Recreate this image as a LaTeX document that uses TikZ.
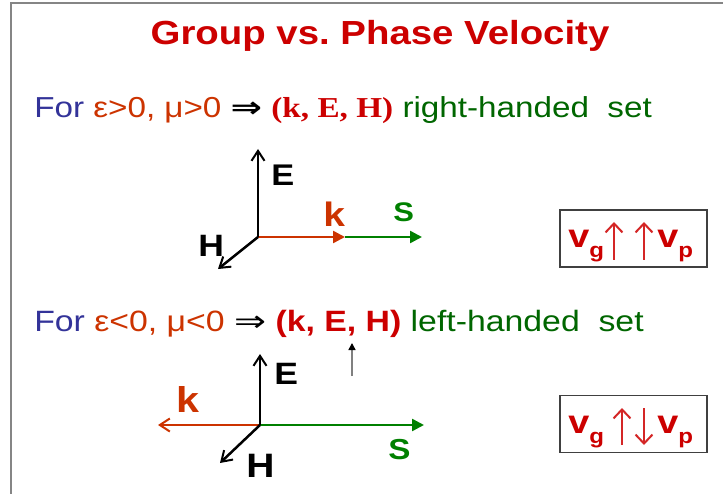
\documentclass[tikz,border=0pt]{standalone}
\usepackage{fontspec}
\setmainfont{Liberation Sans}[FakeStretch=1.15]
\newfontfamily\serifbf{Liberation Serif}[FakeStretch=1.15]
\newfontfamily\symfont{DejaVu Sans}[FakeStretch=1.3]
\usetikzlibrary{arrows.meta}
\definecolor{ttlred}{HTML}{CC0000}
\definecolor{forblue}{HTML}{333399}
\definecolor{condred}{HTML}{CC3300}
\definecolor{setgreen}{HTML}{006600}
\definecolor{sgreen}{HTML}{008000}
\definecolor{framegray}{HTML}{858585}
\newcommand{\fsz}[1]{\fontsize{#1}{#1}\selectfont}

\begin{document}
\begin{tikzpicture}[x=1bp, y=-1bp, line width=2.5bp,
    lbl/.style={inner sep=0pt, anchor=base west, font=\bfseries},
    barb/.style={-{Straight Barb[length=10bp, width=13bp, line width=2bp]}},
    tri/.style={-{Triangle[length=12bp, width=12bp]}},
    vbox/.style={draw=black!75, line width=1.5bp, minimum width=147bp,
      minimum height=57bp, inner sep=0pt},
    vel/.style={inner sep=0pt, anchor=base west, text=ttlred,
      font=\fsz{33}\bfseries},
    vdir/.style={draw=ttlred!85, line width=2bp,
      -{Straight Barb[length=9bp, width=17bp, line width=2bp]}}]
  \useasboundingbox (0,0) rectangle (723,494);
  % slide frame
  \draw[framegray, line width=2bp] (10.5,494) -- (10.5,3) -- (723,3);

  % title and the two statements
  \node[inner sep=0pt, anchor=base, text=ttlred, font=\fsz{33.5}\bfseries]
    (title) at (380,45) {Group vs.\ Phase Velocity};
  \node[inner sep=0pt, anchor=base west, font=\fsz{29}] (cond1) at (33,118)
    {\color{forblue}For \color{condred}ε>0, μ>0 {\color{black}\symfont\bfseries ⇒}
     {\color{ttlred}\serifbf\bfseries (k, E, H)} \color{setgreen}right-handed\ \ set};
  \node[inner sep=0pt, anchor=base west, font=\fsz{29.5}] (cond2) at (33,331)
    {\color{forblue}For \color{condred}ε<0, μ<0 {\color{black}\symfont ⇒}
     {\color{ttlred}\bfseries (k, E, H)} \color{setgreen}left-handed\ \ set};

  % right-handed triad
  \coordinate (o1) at (258,237);
  \coordinate (e1) at (258,149);
  \coordinate (h1) at (218,269);
  \coordinate (k1) at (345,237);
  \coordinate (s1) at (422,237);
  \draw[sgreen, tri] (k1) -- (s1);
  \draw[condred, tri] (o1) -- (k1);
  \draw[barb] (o1) -- (e1);
  \draw[barb] (o1) -- (h1);
  \node[lbl, font=\fsz{30}\bfseries] (E1) at (270,186) {E};
  \node[lbl, font=\fsz{31}\bfseries] (H1) at (197,257) {H};
  \node[lbl, font=\fsz{34}\bfseries, text=condred] (K1) at (322,227) {k};
  \node[lbl, font=\fsz{27}\bfseries, text=sgreen] (S1) at (392,222) {S};

  % left-handed triad
  \coordinate (o2) at (260,425);
  \coordinate (e2) at (260,354);
  \coordinate (h2) at (220,463);
  \coordinate (k2) at (158,425);
  \coordinate (s2) at (424,425);
  \draw[sgreen, tri] (o2) -- (s2);
  \draw[condred, barb] (o2) -- (k2);
  \draw[barb] (o2) -- (e2);
  \draw[barb] (o2) -- (h2);
  \node[lbl, font=\fsz{31}\bfseries] (E2) at (273,384) {E};
  \node[lbl, font=\fsz{34}\bfseries] (H2) at (245,477) {H};
  \node[lbl, font=\fsz{36}\bfseries, text=condred] (K2) at (175,412) {k};
  \node[lbl, font=\fsz{29}\bfseries, text=sgreen] (S2) at (387,459) {S};

  % stray pointer under E
  \coordinate (ptrA) at (352,376);
  \coordinate (ptrB) at (352,343);
  \draw[gray, line width=1.5bp, -{Triangle[length=7bp, width=7bp, color=black]}]
    (ptrA) -- (ptrB);

  % velocity boxes
  \node[vbox] (box1) at (633.5,238.5) {};
  \node[vel] (vg1) at (567,248) {v\raisebox{-10bp}{\fsz{21}\bfseries g}};
  \node[vel] (vp1) at (656,248) {v\raisebox{-10bp}{\fsz{21}\bfseries p}};
  \coordinate (a1) at (614,260); \coordinate (a1t) at (614,222);
  \coordinate (b1) at (644,260); \coordinate (b1t) at (644,222);
  \draw[vdir] (a1) -- (a1t);
  \draw[vdir] (b1) -- (b1t);

  \node[vbox] (box2) at (633.5,424) {};
  \node[vel] (vg2) at (567,433) {v\raisebox{-10bp}{\fsz{21}\bfseries g}};
  \node[vel] (vp2) at (656,433) {v\raisebox{-10bp}{\fsz{21}\bfseries p}};
  \coordinate (a2) at (622,445); \coordinate (a2t) at (622,408);
  \coordinate (b2) at (644,408); \coordinate (b2t) at (644,445);
  \draw[vdir] (a2) -- (a2t);
  \draw[vdir] (b2) -- (b2t);
\end{tikzpicture}
\end{document}
